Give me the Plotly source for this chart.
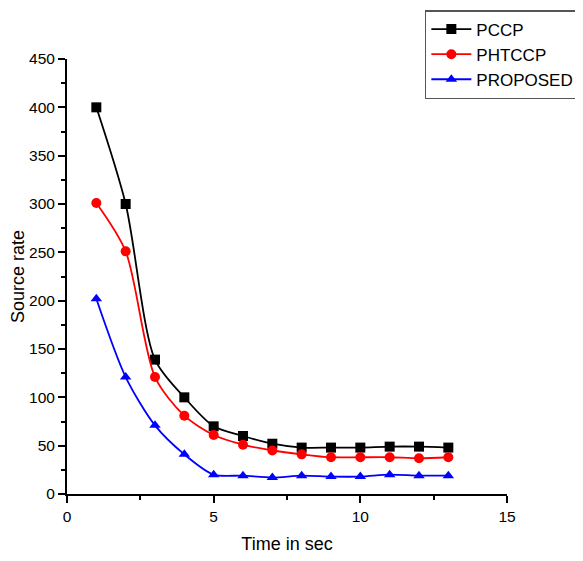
import plotly.graph_objects as go

time = [1, 2, 3, 4, 5, 6, 7, 8, 9, 10, 11, 12, 13]
pccp = [400, 300, 139, 100, 70, 60, 52, 48, 48, 48, 49, 49, 48]
phtccp = [301, 251, 121, 81, 61, 51, 45, 41, 38, 38, 38, 37, 38]
proposed = [202, 121, 71, 41, 20, 19, 17, 19, 18, 18, 20, 19, 19]

x_ticks = [0, 5, 10, 15]
y_ticks = [0, 50, 100, 150, 200, 250, 300, 350, 400, 450]

fig = go.Figure()
series = [
    ("PCCP", pccp, "black", "square"),
    ("PHTCCP", phtccp, "red", "circle"),
    ("PROPOSED", proposed, "blue", "triangle-up"),
]
for name, vals, color, sym in series:
    fig.add_trace(go.Scatter(
        x=time, y=vals, name=name, mode="lines+markers",
        line=dict(color=color, width=1.8, shape="spline", smoothing=0.8),
        marker=dict(symbol=sym, size=10, color=color),
    ))

FONT = "Liberation Sans, Arial"
axis_common = dict(
    showline=True, linecolor="black", linewidth=2, showgrid=False, zeroline=False,
    ticks="outside", ticklen=7, tickwidth=2, tickcolor="black", automargin=False,
    tickfont=dict(family=FONT, size=15.5, color="black"),
)
fig.update_xaxes(range=[0, 15], tickvals=x_ticks, **axis_common,
                 minor=dict(ticks="outside", ticklen=4, tickwidth=2, dtick=2.5, tickcolor="black"),
                 title=dict(text="Time in sec", font=dict(family=FONT, size=18, color="black"), standoff=14))
fig.update_yaxes(range=[0, 450], tickvals=y_ticks, **axis_common,
                 minor=dict(ticks="outside", ticklen=4, tickwidth=2, dtick=25, tickcolor="black"),
                 title=dict(text="Source rate", font=dict(family=FONT, size=18, color="black"), standoff=5))

fig.update_layout(
    width=583, height=561,
    margin=dict(l=59, r=84, t=51, b=75, autoexpand=False),
    plot_bgcolor="white", paper_bgcolor="white",
    legend=dict(xref="container", yref="container", x=0.715, y=0.9964,
                xanchor="left", yanchor="top",
                bordercolor="#555", borderwidth=1.5, bgcolor="white",
                font=dict(family=FONT, size=17, color="black"),
                tracegroupgap=0, itemwidth=40),
)

fig.write_html("out.html")
